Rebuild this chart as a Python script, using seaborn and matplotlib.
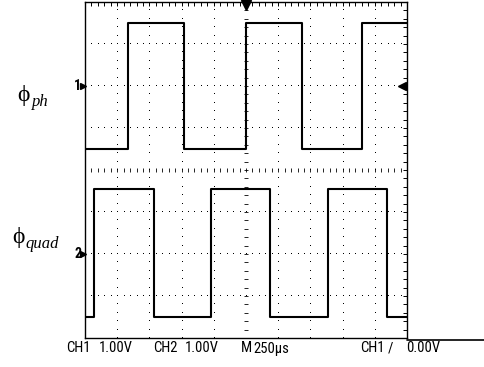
import numpy as np
import pandas as pd
import matplotlib
matplotlib.use("Agg")
import matplotlib.pyplot as plt
from matplotlib.lines import Line2D
import seaborn as sns

# Scope settings
us_per_div = 250
volts_per_div = 1.0
n_hdiv, n_vdiv = 10, 8
record_us = us_per_div * n_hdiv

# Channel 1 (phi_ph): edge times in microseconds, starting low
ch1_edges_us = [335, 768, 1248, 1683, 2148]
ch1_low, ch1_high = -1.5, 1.5
ch1_ref_div = 2.0

# Channel 2 (phi_quad): edge times in microseconds, starting low
ch2_edges_us = [73, 538, 975, 1440, 1888, 2348]
ch2_low, ch2_high = -1.5, 1.55
ch2_ref_div = -2.0

# Readout fields along the bottom
readout = ["CH1", "1.00V", "CH2", "1.00V", "M", "250\u00b5s", "CH1", "/", "0.00V"]


def square_wave(edges, low, high, ref, name):
    times = [0] + list(edges) + [record_us]
    levels = []
    lvl = low
    for _ in times[:-1]:
        levels.append(lvl)
        lvl = high if lvl == low else low
    levels.append(levels[-1])
    return pd.DataFrame({
        "t": times,
        "y": np.array(levels) / volts_per_div + ref,
        "ch": name,
    })


df = pd.concat([
    square_wave(ch1_edges_us, ch1_low, ch1_high, ch1_ref_div, "CH1"),
    square_wave(ch2_edges_us, ch2_low, ch2_high, ch2_ref_div, "CH2"),
], ignore_index=True)

sns.set_style("white")
plt.rcParams["text.color"] = "black"

narrow = ["Liberation Sans Narrow", "Roboto Condensed", "DejaVu Sans"]
serif = ["Liberation Serif", "DejaVu Serif"]

W, H = 484, 367
fig = plt.figure(figsize=(W / 100, H / 100), dpi=100)
L, R, T, B = 85, 407, 2, 338
ax = fig.add_axes([L / W, 1 - B / H, (R - L) / W, (B - T) / H])
ax.set_xlim(0, record_us)
ax.set_ylim(-n_vdiv / 2, n_vdiv / 2)

# Graticule dots (single pixels)
minor_x = np.arange(0, record_us + 1, us_per_div / 5)
minor_y = np.arange(-n_vdiv / 2, n_vdiv / 2 + 0.01, 0.2)
for k in range(1, n_hdiv):
    if k == n_hdiv // 2:
        continue
    ax.plot(np.full_like(minor_y, k * us_per_div), minor_y, ",",
            color="black", linestyle="none", zorder=1)
for j in range(1, n_vdiv):
    yv = j - n_vdiv / 2
    if yv == 0:
        continue
    ax.plot(minor_x, np.full_like(minor_x, yv), ",",
            color="black", linestyle="none", zorder=1)
# Centre cross with tick marks
ax.scatter(minor_x, np.zeros_like(minor_x), marker="|", s=10,
           color="black", linewidths=0.6, zorder=1)
ax.scatter(np.full_like(minor_y, record_us / 2), minor_y, marker="_", s=10,
           color="black", linewidths=0.6, zorder=1)

# Traces
sns.lineplot(data=df, x="t", y="y", hue="ch", palette=["black", "black"],
             drawstyle="steps-post", estimator=None, sort=False,
             legend=False, linewidth=1.5, ax=ax, zorder=3)

# Frame and edge ticks
ax.set_xlabel("")
ax.set_ylabel("")
ax.set_xticks(minor_x)
ax.set_yticks(minor_y)
ax.tick_params(direction="in", length=3, width=0.7, top=True, right=True,
               labelbottom=False, labelleft=False, color="black")
for sp in ax.spines.values():
    sp.set_color("black")
    sp.set_linewidth(1.0)

# Trigger position and level markers
ax.plot([record_us / 2], [n_vdiv / 2 - 0.08], marker="v", markersize=7,
        color="black", clip_on=False, zorder=5)
ax.plot([record_us - 40], [ch1_ref_div], marker="<", markersize=6,
        color="black", clip_on=False, zorder=5)

# Channel ground markers
for lab, ref in (("1", ch1_ref_div), ("2", ch2_ref_div)):
    ax.plot([-18], [ref], marker=">", markersize=4, color="black",
            clip_on=False, zorder=5)
    ax.text(-30, ref, lab, ha="right", va="center", fontsize=10,
            family=narrow, fontweight="bold")

# Signal names: upright phi with italic subscript
for x_phi, y_phi, sub, x_sub in ((17, 96, "ph", 32), (12, 238, "quad", 25.5)):
    fig.text(x_phi / W, 1 - y_phi / H, "\u03d5", fontsize=17, ha="left",
             va="center", family=serif)
    fig.text(x_sub / W, 1 - (y_phi + 6) / H, sub, fontsize=12, ha="left",
             va="center", family=serif, style="italic")

# Readout line
fig.add_artist(Line2D([R / W, 1.0], [1 - 339.5 / H, 1 - 339.5 / H],
                      transform=fig.transFigure, color="black", linewidth=1.2))
readout_cx = [78.5, 116, 165.5, 202, 246, 271, 372.5, 390, 423]
for txt, xc in zip(readout, readout_cx):
    fig.text(xc / W, 1 - 348.5 / H, txt, fontsize=10.5, ha="center",
             va="center", family=narrow)

fig.savefig("out.png", dpi=100, facecolor="white")
